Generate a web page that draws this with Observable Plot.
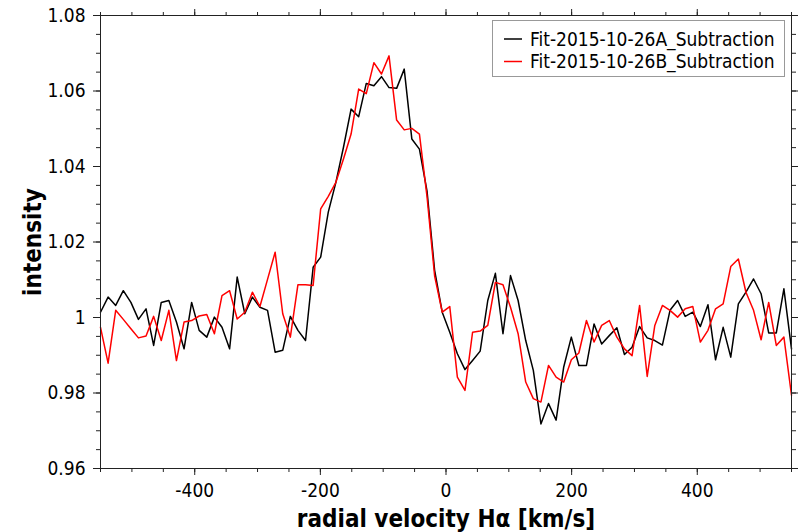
<!DOCTYPE html>
<html><head><meta charset="utf-8">
<script src="https://cdn.jsdelivr.net/npm/d3@7"></script>
<script src="https://cdn.jsdelivr.net/npm/@observablehq/plot@0.6"></script>
<style>
body{margin:0;background:#fff}
#chart{width:798px;height:532px}
</style>
</head><body><div id="chart"></div>
<script>
const velocity = [-550.0,-537.9,-525.8,-513.7,-501.6,-489.6,-477.5,-465.4,-453.3,-441.2,-429.1,-417.0,-404.9,-392.9,-380.8,-368.7,-356.6,-344.5,-332.4,-320.3,-308.2,-296.2,-284.1,-272.0,-259.9,-247.8,-235.7,-223.6,-211.5,-199.5,-187.4,-175.3,-163.2,-151.1,-139.0,-126.9,-114.8,-102.7,-90.7,-78.6,-66.5,-54.4,-42.3,-30.2,-18.1,-6.0,6.0,18.1,30.2,42.3,54.4,66.5,78.6,90.7,102.7,114.8,126.9,139.0,151.1,163.2,175.3,187.4,199.5,211.5,223.6,235.7,247.8,259.9,272.0,284.1,296.2,308.2,320.3,332.4,344.5,356.6,368.7,380.8,392.9,404.9,417.0,429.1,441.2,453.3,465.4,477.5,489.6,501.6,513.7,525.8,537.9,550.0];

const seriesA = [1.0014,1.0054,1.0032,1.0071,1.0040,0.9995,1.0023,0.9926,1.0040,1.0045,0.9988,0.9917,1.0040,0.9966,0.9948,1.0001,0.9974,0.9917,1.0107,1.0010,1.0054,1.0027,1.0019,0.9908,0.9913,1.0003,0.9966,0.9939,1.0133,1.0160,1.0279,1.0358,1.0451,1.0552,1.0532,1.0620,1.0614,1.0638,1.0609,1.0607,1.0658,1.0473,1.0446,1.0335,1.0125,1.0014,0.9961,0.9904,0.9862,0.9886,0.9911,1.0045,1.0117,0.9957,1.0111,1.0045,0.9939,0.9860,0.9718,0.9772,0.9728,0.9869,0.9948,0.9873,0.9873,0.9983,0.9930,0.9952,0.9973,0.9902,0.9921,0.9976,0.9946,0.9939,0.9927,1.0019,1.0045,1.0003,1.0014,0.9976,1.0034,0.9888,0.9974,0.9895,1.0036,1.0067,1.0102,1.0063,0.9959,0.9959,1.0076,0.9917];

const seriesB = [0.9974,0.9879,1.0019,0.9995,0.9970,0.9946,0.9951,1.0003,0.9939,1.0019,0.9886,0.9988,0.9992,1.0004,1.0008,0.9957,1.0058,1.0071,0.9996,1.0014,1.0067,1.0029,1.0101,1.0173,1.0010,0.9948,1.0087,1.0087,1.0085,1.0288,1.0321,1.0358,1.0420,1.0486,1.0605,1.0593,1.0675,1.0645,1.0693,1.0523,1.0497,1.0501,1.0486,1.0320,1.0110,1.0014,1.0029,0.9842,0.9807,0.9961,0.9964,0.9979,1.0093,1.0087,1.0027,0.9957,0.9829,0.9785,0.9776,0.9873,0.9842,0.9829,0.9888,0.9906,0.9992,0.9935,0.9979,0.9992,0.9948,0.9917,0.9899,1.0032,0.9844,0.9979,1.0032,1.0019,1.0001,1.0023,1.0029,0.9935,0.9966,1.0023,1.0036,1.0135,1.0155,1.0067,1.0019,0.9941,1.0040,0.9926,0.9948,0.9794];

const seriesNames = ["Fit-2015-10-26A_Subtraction", "Fit-2015-10-26B_Subtraction"];
const seriesColors = ["#000000", "#ff0000"];

const xMajorTicks = [-400, -200, 0, 200, 400];
const xTickLabels = ["-400", "-200", "0", "200", "400"];
const xMinorTicks = [-550,-500,-450,-400,-350,-300,-250,-200,-150,-100,-50,0,50,100,150,200,250,300,350,400,450,500,550];
const yMajorTicks = [0.96, 0.98, 1.00, 1.02, 1.04, 1.06, 1.08];
const yTickLabels = ["0.96", "0.98", "1", "1.02", "1.04", "1.06", "1.08"];
const yMinorTicks = [0.96,0.965,0.97,0.975,0.98,0.985,0.99,0.995,1.0,1.005,1.01,1.015,1.02,1.025,1.03,1.035,1.04,1.045,1.05,1.055,1.06,1.065,1.07,1.075,1.08];

const xTitle = "radial velocity Hα [km/s]";
const yTitle = "intensity";

const FONT = "'DejaVu Sans Condensed', 'DejaVu Sans', sans-serif";

const rows = [];
velocity.forEach((v, i) => rows.push({v, y: seriesA[i], s: seriesNames[0]}));
velocity.forEach((v, i) => rows.push({v, y: seriesB[i], s: seriesNames[1]}));

const axisCol = "#222";
const plot = Plot.plot({
  width: 798,
  height: 532,
  marginLeft: 100,
  marginRight: 7,
  marginTop: 15,
  marginBottom: 64,
  x: {domain: [-550, 550]},
  y: {domain: [0.96, 1.08]},
  color: {domain: seriesNames, range: seriesColors},
  style: {fontFamily: FONT, fontSize: "19px", color: "#000", background: "#fff", fontStretch: "condensed"},
  marks: [
    Plot.line(rows, {x: "v", y: "y", z: "s", stroke: "s", strokeWidth: 1.5}),
    Plot.frame({stroke: axisCol, strokeWidth: 1}),
    Plot.axisX(xMinorTicks, {anchor: "bottom", tickSize: 4, fill: "none", stroke: axisCol}),
    Plot.axisX(xMajorTicks, {anchor: "bottom", tickSize: 7, tickPadding: 8, stroke: axisCol, fill: "#000",
      tickFormat: d => xTickLabels[xMajorTicks.indexOf(d)], label: null, fontSize: 19}),
    Plot.axisX(xMinorTicks, {anchor: "top", tickSize: 4, fill: "none", stroke: axisCol}),
    Plot.axisX(xMajorTicks, {anchor: "top", tickSize: 7, fill: "none", stroke: axisCol}),
    Plot.axisY(yMinorTicks, {anchor: "left", tickSize: 4, fill: "none", stroke: axisCol}),
    Plot.axisY(yMajorTicks, {anchor: "left", tickSize: 7, tickPadding: 8, stroke: axisCol, fill: "#000",
      tickFormat: d => yTickLabels[yMajorTicks.indexOf(d)], label: null, fontSize: 19}),
    Plot.axisY(yMinorTicks, {anchor: "right", tickSize: 4, fill: "none", stroke: axisCol}),
    Plot.axisY(yMajorTicks, {anchor: "right", tickSize: 7, fill: "none", stroke: axisCol}),
    Plot.text([xTitle], {frameAnchor: "bottom", dy: 58, lineAnchor: "bottom", textAnchor: "middle",
      fontWeight: "bold", fontSize: 24, fill: "#000"}),
    Plot.text([yTitle], {frameAnchor: "left", dx: -67, rotate: -90, textAnchor: "middle", lineAnchor: "middle",
      fontWeight: "bold", fontSize: 24, fill: "#000"})
  ]
});

document.getElementById("chart").appendChild(plot);

// legend
const svg = d3.select(plot);
const lg = svg.append("g").attr("font-family", FONT).attr("font-size", 19)
  .attr("text-anchor", "start").style("font-stretch", "condensed");
lg.append("rect").attr("x", 492.5).attr("y", 20.5).attr("width", 292).attr("height", 56)
  .attr("fill", "#fff").attr("stroke", "#999").attr("stroke-width", 1);
seriesNames.forEach((name, i) => {
  const yy = 39 + i * 22.5;
  lg.append("line").attr("x1", 504).attr("x2", 522).attr("y1", yy).attr("y2", yy)
    .attr("stroke", seriesColors[i]).attr("stroke-width", 1.5);
  lg.append("text").attr("x", 530).attr("y", yy).attr("dy", "0.35em")
    .attr("text-anchor", "start").attr("fill", "#000").text(name);
});
</script>
</body></html>
